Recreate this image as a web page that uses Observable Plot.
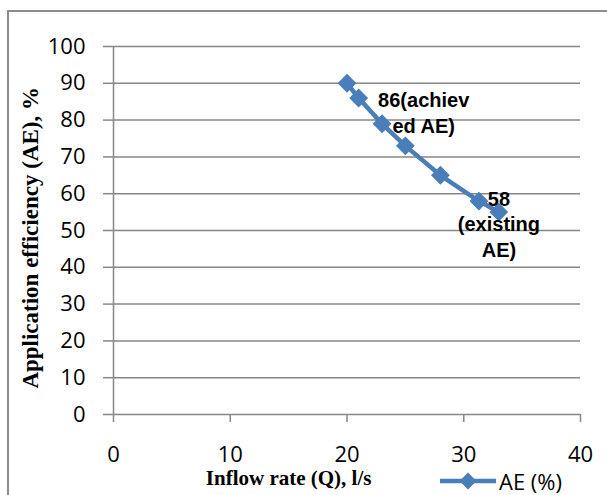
<!DOCTYPE html>
<html><head><meta charset="utf-8">
<script src="https://cdn.jsdelivr.net/npm/d3@7"></script>
<script src="https://cdn.jsdelivr.net/npm/@observablehq/plot@0.6"></script>
<style>
html,body{margin:0;padding:0;background:#fff;}
#wrap{position:relative;width:607px;height:495px;overflow:hidden;background:#fff;}
#border{position:absolute;left:7px;top:10px;width:700px;height:600px;border-left:2px solid #8c8c8c;border-top:2px solid #8c8c8c;}
#chart{position:absolute;left:0;top:0;}
#legend{position:absolute;left:438px;top:469px;height:24px;display:flex;align-items:center;font-family:"Open Sans";font-size:22px;color:#000;line-height:24px;}
#legend svg{display:block;margin-right:1px;}
</style></head><body>
<div id="wrap"><div id="border"></div><div id="chart"></div><div id="legend"></div></div>
<script>
const inflow = [20, 21, 23, 25, 28, 31.3, 33];
const ae = [90, 86, 79, 73, 65, 58, 55];
const xTicks = [0, 10, 20, 30, 40];
const yTicks = [0, 10, 20, 30, 40, 50, 60, 70, 80, 90, 100];
const labelX = [21, 31.3];
const labelY = [86, 58];
const labelText = ["86(achiev\ned AE)", "58\n(existing\nAE)"];
const seriesName = "AE (%)";
const xTitle = "Inflow rate (Q), l/s";
const yTitle = "Application efficiency (AE), %";

const blue = "#4a7ebb";
const grid = "#878787";
const data = inflow.map((q, i) => ({q, ae: ae[i]}));
const labelFont = {fontFamily: "Liberation Sans", fontWeight: "bold", fontSize: 20, lineHeight: 1.28, fill: "#000"};

const chart = Plot.plot({
  width: 607, height: 495,
  marginLeft: 113, marginRight: 27, marginTop: 46, marginBottom: 81,
  style: {background: "transparent", overflow: "visible"},
  x: {domain: [0, 40]},
  y: {domain: [0, 100]},
  marks: [
    Plot.ruleY(yTicks, {stroke: grid, strokeWidth: 1.5}),
    Plot.ruleX([0], {stroke: grid, strokeWidth: 1.5}),
    Plot.axisY({ticks: yTicks, tickSize: 10, tickPadding: 18, stroke: grid, strokeWidth: 1.5, strokeOpacity: 1,
      fontSize: 22, fontFamily: "Open Sans", fill: "#000", label: null}),
    Plot.axisX({ticks: xTicks, tickSize: 8, tickPadding: 24, stroke: grid, strokeWidth: 1.5, strokeOpacity: 1,
      fontSize: 22, fontFamily: "Open Sans", fill: "#000", label: null}),
    Plot.line(data, {x: "q", y: "ae", stroke: blue, strokeWidth: 4.5}),
    Plot.dot(data, {x: "q", y: "ae", symbol: "diamond2", r: 8.5, fill: blue, stroke: "none"}),
    Plot.text([labelText[0]], {x: [labelX[0]], y: [labelY[0]], text: d => d, dx: 65, dy: 14, ...labelFont}),
    Plot.text([labelText[1]], {x: [labelX[1]], y: [labelY[1]], text: d => d, dx: 20, dy: 22, ...labelFont}),
    Plot.text([xTitle], {frameAnchor: "bottom", x: [15.0], dy: 70, text: d => d,
      fontFamily: "Liberation Serif", fontWeight: "bold", fontSize: 21, fill: "#000"}),
    Plot.text([yTitle], {frameAnchor: "left", y: [48], dx: -83, rotate: -90, textAnchor: "middle", text: d => d,
      fontFamily: "Liberation Serif", fontWeight: "bold", fontSize: 23, fill: "#000"})
  ]
});
document.getElementById("chart").appendChild(chart);

const legend = document.getElementById("legend");
legend.innerHTML = `<svg width="60" height="20"><line x1="2" x2="58" y1="10" y2="10" stroke="${blue}" stroke-width="4.5"/><path d="M30,1.5L38.5,10L30,18.5L21.5,10Z" fill="${blue}"/></svg><span></span>`;
legend.querySelector("span").textContent = seriesName;
</script>
</body></html>
